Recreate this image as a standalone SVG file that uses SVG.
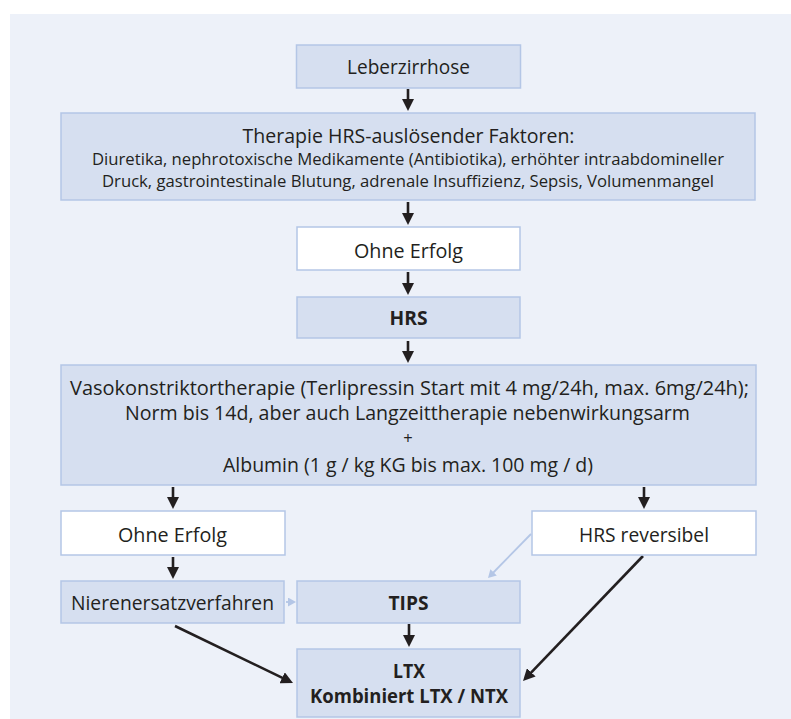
<svg xmlns="http://www.w3.org/2000/svg" width="791" height="719" viewBox="0 0 791 719">
<style>
.box{fill:#d6dff0;stroke:#b4c6e6;stroke-width:1.5}
.wbox{fill:#ffffff;stroke:#b4c6e6;stroke-width:1.5}
text{font-family:"Open Sans","Noto Sans","Liberation Sans",sans-serif;fill:#231f20;text-anchor:middle}
.t{font-size:20px}
.s{font-size:16.5px}
.b{font-size:20px;font-weight:bold}
.arr{stroke:#231f20;stroke-width:2.6;fill:none;marker-end:url(#ah)}
.larr{stroke:#b4c6e6;stroke-width:1.8;fill:none;marker-end:url(#lh)}
</style>
<defs>
<marker id="ah" markerUnits="userSpaceOnUse" markerWidth="13" markerHeight="12" viewBox="0 0 13 12" refX="2" refY="6" orient="auto">
<path d="M0,0 L12,6 L0,12 z" fill="#231f20"/>
</marker>
<marker id="lh" markerUnits="userSpaceOnUse" markerWidth="9" markerHeight="9" viewBox="0 0 9 9" refX="1" refY="4.5" orient="auto">
<path d="M0,0 L8,4.5 L0,9 z" fill="#b4c6e6"/>
</marker>
</defs>
<rect x="10" y="14" width="781" height="705" fill="#edf1f9"/>

<g id="connectors">
<line class="arr" x1="408" y1="89" x2="408" y2="101"/>
<line class="arr" x1="408" y1="202" x2="408" y2="215"/>
<line class="arr" x1="408" y1="272" x2="408" y2="285"/>
<line class="arr" x1="408" y1="341" x2="408" y2="353"/>
<line class="arr" x1="173" y1="487" x2="173" y2="499"/>
<line class="arr" x1="644" y1="487" x2="644" y2="499"/>
<line class="arr" x1="173" y1="557" x2="173" y2="569"/>
<line class="arr" x1="409" y1="624" x2="409" y2="637"/>
<line class="arr" x1="175" y1="626" x2="284" y2="678.6"/>
<line class="arr" x1="643" y1="556" x2="529.9" y2="673.8"/>
<line class="larr" x1="531" y1="534" x2="492.9" y2="573"/>
<line class="larr" x1="286" y1="602" x2="289" y2="602"/>
</g>

<g id="leberzirrhose">
<rect class="box" x="296.5" y="45" width="224" height="43"/>
<text class="t" x="408.5" y="74" textLength="123" lengthAdjust="spacingAndGlyphs">Leberzirrhose</text>
</g>

<g id="therapie">
<rect class="box" x="61" y="113" width="694" height="87"/>
<text class="t" x="408.5" y="143" textLength="332" lengthAdjust="spacingAndGlyphs">Therapie HRS-auslösender Faktoren:</text>
<text class="s" x="408" y="165" textLength="632" lengthAdjust="spacingAndGlyphs">Diuretika, nephrotoxische Medikamente (Antibiotika), erhöhter intraabdomineller</text>
<text class="s" x="408" y="187" textLength="612" lengthAdjust="spacingAndGlyphs">Druck, gastrointestinale Blutung, adrenale Insuffizienz, Sepsis, Volumenmangel</text>
</g>

<g id="ohne1">
<rect class="wbox" x="297" y="227" width="223" height="43"/>
<text class="t" x="408.5" y="258" textLength="109" lengthAdjust="spacingAndGlyphs">Ohne Erfolg</text>
</g>

<g id="hrs">
<rect class="box" x="297" y="297" width="223" height="41"/>
<text class="b" x="408.5" y="325" textLength="38" lengthAdjust="spacingAndGlyphs">HRS</text>
</g>

<g id="vaso">
<rect class="box" x="61" y="365" width="695" height="120"/>
<text class="t" x="409.5" y="395" textLength="679" lengthAdjust="spacingAndGlyphs">Vasokonstriktortherapie (Terlipressin Start mit 4 mg/24h, max. 6mg/24h);</text>
<text class="t" x="407.5" y="420" textLength="565" lengthAdjust="spacingAndGlyphs">Norm bis 14d, aber auch Langzeittherapie nebenwirkungsarm</text>
<text class="s" x="408" y="444">+</text>
<text class="t" x="408" y="472" textLength="370" lengthAdjust="spacingAndGlyphs">Albumin (1 g / kg KG bis max. 100 mg / d)</text>
</g>

<g id="ohne2">
<rect class="wbox" x="61" y="511" width="224" height="44"/>
<text class="t" x="172.5" y="542" textLength="109" lengthAdjust="spacingAndGlyphs">Ohne Erfolg</text>
</g>

<g id="hrsrev">
<rect class="wbox" x="532" y="511" width="224" height="44"/>
<text class="t" x="644" y="542" textLength="130" lengthAdjust="spacingAndGlyphs">HRS reversibel</text>
</g>

<g id="nieren">
<rect class="box" x="61" y="581" width="223" height="42"/>
<text class="t" x="172.5" y="610" textLength="203" lengthAdjust="spacingAndGlyphs">Nierenersatzverfahren</text>
</g>

<g id="tips">
<rect class="box" x="297" y="581" width="223" height="42"/>
<text class="b" x="408.5" y="610" textLength="40" lengthAdjust="spacingAndGlyphs">TIPS</text>
</g>

<g id="ltx">
<rect class="box" x="297" y="649" width="223" height="68"/>
<text class="b" x="409" y="678" textLength="32" lengthAdjust="spacingAndGlyphs">LTX</text>
<text class="b" x="409" y="703" textLength="198" lengthAdjust="spacingAndGlyphs">Kombiniert LTX / NTX</text>
</g>
</svg>
